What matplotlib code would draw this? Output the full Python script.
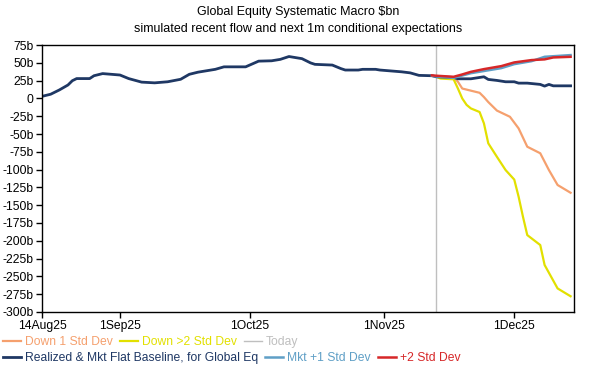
import matplotlib
matplotlib.use("Agg")
import matplotlib.pyplot as plt
import matplotlib.dates as mdates
import pandas as pd

plt.rcParams['font.family'] = ['Liberation Sans', 'DejaVu Sans']

# realized flow, $bn
realized_dates = ['2025-08-14', '2025-08-16', '2025-08-18', '2025-08-20', '2025-08-21', '2025-08-22',
                  '2025-08-25', '2025-08-26', '2025-08-28', '2025-09-01', '2025-09-03', '2025-09-06',
                  '2025-09-09', '2025-09-12', '2025-09-15', '2025-09-17', '2025-09-19', '2025-09-23',
                  '2025-09-25', '2025-09-30', '2025-10-03', '2025-10-06', '2025-10-08', '2025-10-10',
                  '2025-10-13', '2025-10-15', '2025-10-16', '2025-10-20', '2025-10-22', '2025-10-23',
                  '2025-10-26', '2025-10-27', '2025-10-30', '2025-10-31', '2025-11-02', '2025-11-05',
                  '2025-11-07', '2025-11-09', '2025-11-12', '2025-11-13']
realized_vals = [3, 6, 12, 19, 25, 28, 28, 32, 35, 33, 28, 23, 22, 23.5, 27, 34, 37, 41, 44.5, 44.5,
                 52.5, 53, 55, 59, 56, 50, 48, 47, 42, 40, 40, 41, 41, 40, 39, 37.5, 36, 32.5, 32, 30.5]

# mkt flat baseline after today
base_dates = ['2025-11-17', '2025-11-18', '2025-11-21', '2025-11-24', '2025-11-25', '2025-11-27',
              '2025-11-29', '2025-12-01', '2025-12-02', '2025-12-04', '2025-12-07', '2025-12-08',
              '2025-12-09', '2025-12-10', '2025-12-14']
base_vals = [29.6, 27.7, 27.7, 30.5, 26.8, 25.4, 23.5, 23.5, 21.6, 21.6, 19.8, 17.4, 19.8, 17.8, 17.8]

up1_dates = ['2025-11-12', '2025-11-13', '2025-11-17', '2025-11-21', '2025-11-28', '2025-12-01',
             '2025-12-05', '2025-12-08', '2025-12-14']
up1_vals = [32, 31, 29, 35.6, 42.7, 48.3, 52.5, 58.6, 61]

up2_dates = ['2025-11-12', '2025-11-13', '2025-11-17', '2025-11-19', '2025-11-21', '2025-11-24',
             '2025-11-28', '2025-12-01', '2025-12-05', '2025-12-08', '2025-12-10', '2025-12-14']
up2_vals = [32.5, 32, 30.5, 33.8, 37.5, 41.3, 45.5, 50.7, 54, 55, 57.7, 58.6]

down1_dates = ['2025-11-13', '2025-11-17', '2025-11-18', '2025-11-19', '2025-11-21', '2025-11-23',
               '2025-11-24', '2025-11-25', '2025-11-27', '2025-11-30', '2025-12-02', '2025-12-04',
               '2025-12-07', '2025-12-09', '2025-12-11', '2025-12-14']
down1_vals = [30.5, 29.6, 23.5, 14, 11, 8, 2, -5, -17, -25.7, -42, -67.8, -77, -100.6, -121.6, -132.5]

down2_dates = ['2025-11-13', '2025-11-14', '2025-11-17', '2025-11-18', '2025-11-19', '2025-11-20',
               '2025-11-21', '2025-11-23', '2025-11-24', '2025-11-25', '2025-11-27', '2025-11-29',
               '2025-12-01', '2025-12-02', '2025-12-03', '2025-12-04', '2025-12-07', '2025-12-08',
               '2025-12-11', '2025-12-14']
down2_vals = [30.5, 28, 27, 14, 0, -9, -14, -19, -35, -63, -82, -100.6, -114, -138, -166, -192,
              -206, -234, -267, -278]

today = '2025-11-13'

tick_dates = ['2025-08-14', '2025-09-01', '2025-10-01', '2025-11-01', '2025-12-01']
ytick_vals = list(range(-300, 76, 25))

NAVY = '#1f3864'
ORANGE = '#f5a06e'
YELLOW = '#e2e000'
GREY = '#bfbfbf'
LBLUE = '#5f9fc6'
RED = '#d62728'

d = pd.to_datetime

fig = plt.figure(figsize=(6, 3.7), dpi=100, facecolor='w')
ax = fig.add_axes([0.07, 0.157, 0.887, 0.721])

l_dn1, = ax.plot(d(down1_dates), down1_vals, c=ORANGE, lw=1.6, label='Down 1 Std Dev')
l_dn2, = ax.plot(d(down2_dates), down2_vals, c=YELLOW, lw=1.6, label='Down >2 Std Dev')
l_today = ax.axvline(d(today), c=GREY, lw=1.0, label='Today')
l_base, = ax.plot(d(realized_dates + base_dates), realized_vals + base_vals, c=NAVY, lw=2.0,
                  label='Realized & Mkt Flat Baseline, for Global Eq')
l_up1, = ax.plot(d(up1_dates), up1_vals, c=LBLUE, lw=1.8, label='Mkt +1 Std Dev')
l_up2, = ax.plot(d(up2_dates), up2_vals, c=RED, lw=1.8, label='+2 Std Dev')

ax.set_xlim(d('2025-08-14'), d('2025-12-14 20:00'))
ax.set_ylim(-300, 75)
ax.set_xticks(d(tick_dates))
ax.xaxis.set_major_formatter(mdates.DateFormatter('%-d%b%y'))
ax.set_yticks(ytick_vals)
ax.set_yticklabels(['0' if v == 0 else '%db' % v for v in ytick_vals])
ax.tick_params(direction='out', length=4, width=1, labelsize=8.7, colors='black', pad=2)
for s in ax.spines.values():
    s.set_linewidth(1.0)

fig.text(0.497, 0.968, 'Global Equity Systematic Macro $bn', ha='center', va='center', fontsize=9)
fig.text(0.497, 0.922, 'simulated recent flow and next 1m conditional expectations',
         ha='center', va='center', fontsize=9)

kw = dict(loc='center left', frameon=False, ncol=3, fontsize=8.7, handlelength=1.5,
          handletextpad=0.3, columnspacing=0.6, borderpad=0, borderaxespad=0)
leg1 = fig.legend(handles=[l_dn1, l_dn2, l_today], bbox_to_anchor=(0.005, 0.076),
                  labelcolor=[ORANGE, YELLOW, GREY], **kw)
leg2 = fig.legend(handles=[l_base, l_up1, l_up2], bbox_to_anchor=(0.005, 0.032),
                  labelcolor=[NAVY, LBLUE, RED], **kw)

fig.savefig('out.png', dpi=100, facecolor='w')
